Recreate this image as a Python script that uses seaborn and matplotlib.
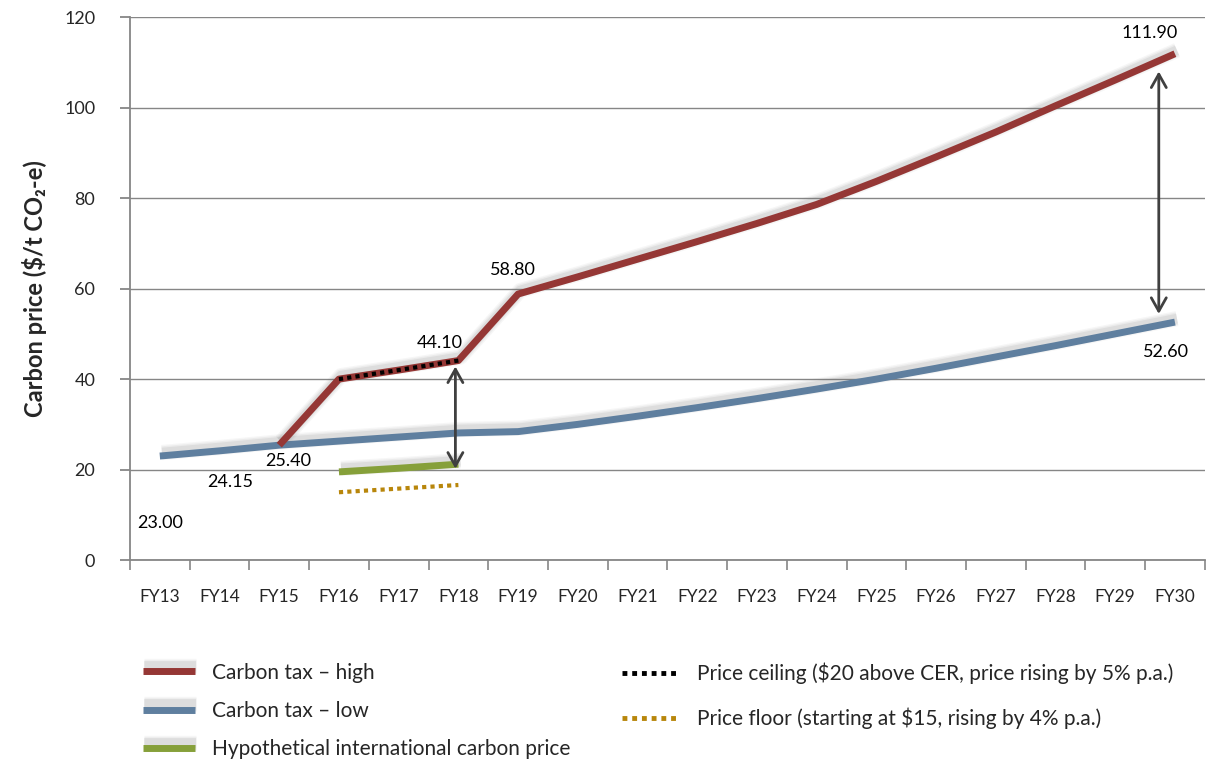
import matplotlib
matplotlib.use("Agg")
import matplotlib.pyplot as plt
import matplotlib.patheffects as pe
from matplotlib.lines import Line2D
import numpy as np
import pandas as pd
import seaborn as sns

years = ["FY13", "FY14", "FY15", "FY16", "FY17", "FY18", "FY19", "FY20", "FY21",
         "FY22", "FY23", "FY24", "FY25", "FY26", "FY27", "FY28", "FY29", "FY30"]

tax_high = [None, None, 25.40, 40.00, 42.00, 44.10, 58.80, 62.6, 66.5, 70.4, 74.4,
            78.6, 83.7, 89.1, 94.6, 100.4, 106.1, 111.90]
tax_low = [23.00, 24.15, 25.40, 26.3, 27.2, 28.1, 28.4, 30.0, 31.8, 33.7, 35.7,
           37.8, 40.0, 42.4, 44.9, 47.4, 50.0, 52.60]
intl_price = [None, None, None, 19.5, 20.3, 21.2] + [None] * 12
price_ceiling = [None, None, None, 40.00, 42.00, 44.10] + [None] * 12
price_floor = [None, None, None, 15.0, 15.8, 16.6] + [None] * 12

value_labels = {  # series -> [(year, value)]
    "low": [("FY13", 23.00), ("FY14", 24.15), ("FY15", 25.40), ("FY30", 52.60)],
    "high": [("FY18", 44.10), ("FY19", 58.80), ("FY30", 111.90)],
}

C_HIGH = "#953735"
C_LOW = "#5f7f9f"
C_INTL = "#86a03a"
C_FLOOR = "#b8860b"
C_AXIS = "#868686"
FONT = ["Lato", "DejaVu Sans"]

sns.set_theme(style="white")
plt.rcParams["font.family"] = FONT

df = pd.DataFrame({
    "year": years,
    "pos": np.arange(len(years)),
    "high": tax_high,
    "low": tax_low,
    "intl": intl_price,
    "ceiling": price_ceiling,
    "floor": price_floor,
}).astype({"high": float, "low": float, "intl": float, "ceiling": float, "floor": float})

fig = plt.figure(figsize=(12.09, 7.6), dpi=100)
ax = fig.add_axes([0.1075, 0.263, 0.889, 0.7145])

# soft shadow: a few translucent, widening strokes offset upward
def soft_shadow(dx=1.5, dy=2.5, base=5):
    return [pe.SimpleLineShadow(offset=(dx, dy), shadow_color="#6f6f6f", alpha=a,
                                linewidth=base + w)
            for w, a in ((6, 0.06), (4, 0.08), (2, 0.11))] + [pe.Normal()]

shadow = soft_shadow()

def draw(col, color, lw, ls="-", fx=True, z=3):
    d = df.dropna(subset=[col])
    sns.lineplot(data=d, x="pos", y=col, ax=ax, color=color, linewidth=lw,
                 linestyle=ls, solid_capstyle="butt", dash_capstyle="butt",
                 sort=False, zorder=z, path_effects=shadow if fx else None)

draw("low", C_LOW, 5)
draw("high", C_HIGH, 5)
draw("intl", C_INTL, 5)
draw("ceiling", "black", 3, ls=(0, (1, 1)), fx=False, z=4)
draw("floor", C_FLOOR, 3, ls=(0, (1, 1)), fx=False, z=4)

# double-headed arrows marking the gaps
arrow_kw = dict(arrowstyle="<->,head_length=0.8,head_width=0.45", color="#404040", lw=2,
                shrinkA=0, shrinkB=0)
i18 = years.index("FY18")
ax.annotate("", xy=(i18 - 0.05, 42.8), xytext=(i18 - 0.05, 20.2), arrowprops=arrow_kw, zorder=5)
i30 = years.index("FY30")
ax.annotate("", xy=(i30 - 0.27, 108.0), xytext=(i30 - 0.27, 54.4), arrowprops=arrow_kw, zorder=5)

# value labels
offsets = {
    ("low", "FY13"): (0.0, -14.8), ("low", "FY14"): (0.18, -6.9),
    ("low", "FY15"): (0.15, -3.5), ("low", "FY30"): (-0.15, -6.6),
    ("high", "FY18"): (-0.31, 3.9), ("high", "FY19"): (-0.08, 5.3),
    ("high", "FY30"): (-0.42, 4.6),
}
for series, items in value_labels.items():
    for yr, val in items:
        dx, dy = offsets[(series, yr)]
        ax.text(years.index(yr) + dx, val + dy, f"{val:.2f}", ha="center", va="center",
                fontsize=13, color="black")

ax.set_xlim(-0.5, len(years) - 0.5)
ax.set_ylim(0, 120)
ax.set_yticks(np.arange(0, 121, 20))
ax.set_xticks(np.arange(len(years)))
ax.set_xticklabels(years, fontsize=12.5)
ax.tick_params(axis="x", length=0, pad=21)
ax.tick_params(axis="y", labelsize=13, length=7, left=True, color=C_AXIS, width=1.3, pad=18)
ax.set_xticks(np.arange(len(years) + 1) - 0.5, minor=True)
ax.tick_params(axis="x", which="minor", length=7, bottom=True, color=C_AXIS, width=1.2)
ax.yaxis.grid(True, color=C_AXIS, linewidth=1)
ax.xaxis.grid(False)
for s in ["top", "right"]:
    ax.spines[s].set_visible(False)
for s in ["left", "bottom"]:
    ax.spines[s].set_color(C_AXIS)
    ax.spines[s].set_linewidth(1.3)
ax.set_xlabel("")
ax.set_ylabel("Carbon price ($/t CO₂-e)", fontsize=17, fontweight="bold", labelpad=12,
              family=FONT)

# legend
leg_shadow = soft_shadow(dx=1, dy=4)
h_left = [Line2D([], [], color=C_HIGH, lw=5, solid_capstyle="butt", path_effects=leg_shadow),
          Line2D([], [], color=C_LOW, lw=5, solid_capstyle="butt", path_effects=leg_shadow),
          Line2D([], [], color=C_INTL, lw=5, solid_capstyle="butt", path_effects=leg_shadow)]
l_left = ["Carbon tax – high", "Carbon tax – low", "Hypothetical international carbon price"]
h_right = [Line2D([], [], color="black", lw=3.5, ls=(0, (1, 1)), dash_capstyle="butt"),
           Line2D([], [], color=C_FLOOR, lw=3.5, ls=(0, (1, 1)), dash_capstyle="butt")]
l_right = ["Price ceiling ($20 above CER, price rising by 5% p.a.)",
           "Price floor (starting at $15, rising by 4% p.a.)"]

FS_LEG = 15
leg1 = fig.legend(h_left, l_left, loc="upper left", frameon=False, fontsize=FS_LEG,
                  handlelength=2.5, handletextpad=0.82, labelspacing=0.88,
                  borderpad=0, borderaxespad=0)
leg1.set_bbox_to_anchor((0.118, 0.128), transform=fig.transFigure)
leg2 = fig.legend(h_right, l_right, loc="upper left", frameon=False, fontsize=FS_LEG,
                  handlelength=2.8, handletextpad=0.78, labelspacing=1.12,
                  borderpad=0, borderaxespad=0)
leg2.set_bbox_to_anchor((0.5145, 0.128), transform=fig.transFigure)

fig.savefig("out.png", dpi=100)
